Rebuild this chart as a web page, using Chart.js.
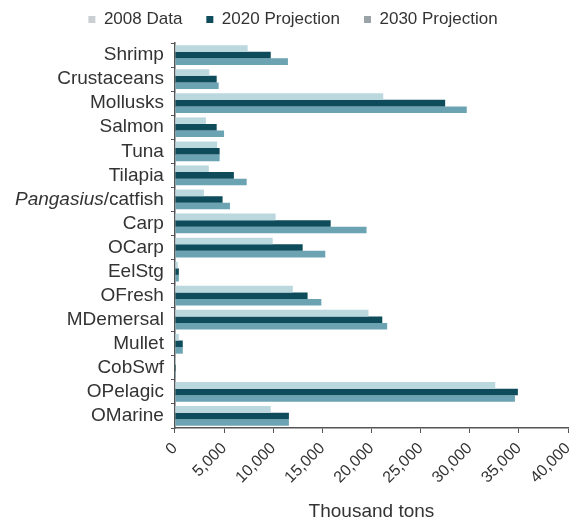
<!DOCTYPE html>
<html>
<head>
<meta charset="utf-8">
<script src="https://cdn.jsdelivr.net/npm/chart.js@4"></script>
<style>
  html, body { margin: 0; padding: 0; background: #fff; }
  #wrap { width: 578px; height: 525px; }
</style>
</head>
<body>
<div id="wrap"><canvas id="fishChart" width="578" height="525"></canvas></div>
<script>
// Species groups, top to bottom
const species = [
  "Shrimp", "Crustaceans", "Mollusks", "Salmon", "Tuna", "Tilapia",
  "Pangasius/catfish", "Carp", "OCarp", "EelStg", "OFresh", "MDemersal",
  "Mullet", "CobSwf", "OPelagic", "OMarine",
];

// Thousand tons
const data2008 = [7400, 3500, 21200, 3150, 4300, 3450, 2950, 10250, 9950, 300, 12000, 19700, 400, 100, 32600, 9750];
const data2020 = [9750, 4250, 27500, 4250, 4550, 6000, 4850, 15850, 13000, 400, 13500, 21100, 800, 100, 34900, 11600];
const data2030 = [11500, 4450, 29700, 5000, 4550, 7300, 5600, 19500, 15300, 400, 14900, 21600, 800, 100, 34600, 11600];

const seriesNames = ["2008 Data", "2020 Projection", "2030 Projection"];
const barColors = ["#bcd8df", "#0e4b5b", "#6ca3b3"];
const legendColors = ["#c9cfd2", "#0e4b5b", "#9aa4a8"];

const xTicks = [0, 5000, 10000, 15000, 20000, 25000, 30000, 35000, 40000];

const TXT = "#333333";
const FONT = "'Liberation Sans', Arial, Helvetica, sans-serif";
const YFONT = 19;

// y labels drawn by hand so "Pangasius" can be italic
const speciesLabels = {
  id: "speciesLabels",
  afterDraw(chart) {
    const ctx = chart.ctx;
    const y = chart.scales.y;
    ctx.save();
    ctx.fillStyle = TXT;
    ctx.textBaseline = "middle";
    ctx.textAlign = "right";
    const xr = y.right - 4 - 7;
    species.forEach((name, i) => {
      const py = y.getPixelForTick(i);
      if (name.indexOf("Pangasius") === 0) {
        const rest = name.slice("Pangasius".length);
        ctx.font = YFONT + "px " + FONT;
        ctx.fillText(rest, xr, py);
        const w = ctx.measureText(rest).width;
        ctx.font = "italic " + YFONT + "px " + FONT;
        ctx.fillText("Pangasius", xr - w, py);
      } else {
        ctx.font = YFONT + "px " + FONT;
        ctx.fillText(name, xr, py);
      }
    });
    ctx.restore();
  },
};

// a bit more room under the legend
const legendGap = {
  id: "legendGap",
  beforeInit(chart) {
    const origFit = chart.legend.fit;
    chart.legend.fit = function () {
      origFit.bind(chart.legend)();
      this.height += 5;
    };
  },
};

const ctx = document.getElementById("fishChart").getContext("2d");
new Chart(ctx, {
  type: "bar",
  data: {
    labels: species,
    datasets: [
      { label: seriesNames[0], data: data2008, backgroundColor: barColors[0] },
      { label: seriesNames[1], data: data2020, backgroundColor: barColors[1] },
      { label: seriesNames[2], data: data2030, backgroundColor: barColors[2] },
    ],
  },
  options: {
    indexAxis: "y",
    responsive: false,
    animation: false,
    layout: { padding: { left: 8, right: 0, top: -13, bottom: 2 } },
    datasets: {
      bar: { categoryPercentage: 0.82, barPercentage: 1.0, borderWidth: 0 },
    },
    scales: {
      x: {
        min: 0,
        max: 40000,
        afterBuildTicks: (scale) => {
          scale.ticks = xTicks.map((v) => ({ value: v }));
        },
        afterFit: (scale) => {
          scale.paddingRight = 10;
        },
        ticks: {
          color: TXT,
          font: { size: 16, family: FONT },
          minRotation: 45,
          maxRotation: 45,
          padding: 6,
          callback: (v) => v.toLocaleString("en-US"),
        },
        grid: { drawOnChartArea: false, drawTicks: true, tickLength: 5, color: "#555" },
        border: { color: "#555", width: 1.5 },
        title: {
          display: true,
          text: "Thousand tons",
          color: TXT,
          font: { size: 19, family: FONT },
          padding: { top: 7, bottom: 0 },
        },
      },
      y: {
        grid: { drawOnChartArea: false, drawTicks: true, tickLength: 4, offset: true, color: "#555" },
        border: { color: "#555", width: 1.5 },
        ticks: {
          color: "rgba(0,0,0,0)",
          font: { size: YFONT, family: FONT },
          padding: 7,
          autoSkip: false,
        },
      },
    },
    plugins: {
      legend: {
        position: "top",
        align: "center",
        labels: {
          color: TXT,
          font: { size: 17, family: FONT },
          usePointStyle: true,
          pointStyle: "rect",
          boxWidth: 7,
          boxHeight: 7,
          padding: 24,
          generateLabels: (chart) => {
            const items = Chart.defaults.plugins.legend.labels.generateLabels(chart);
            items.forEach((it, i) => {
              it.fillStyle = legendColors[i];
              it.strokeStyle = legendColors[i];
              it.lineWidth = 0;
            });
            return items;
          },
        },
      },
      tooltip: { enabled: false },
    },
  },
  plugins: [speciesLabels, legendGap],
});
</script>
</body>
</html>
